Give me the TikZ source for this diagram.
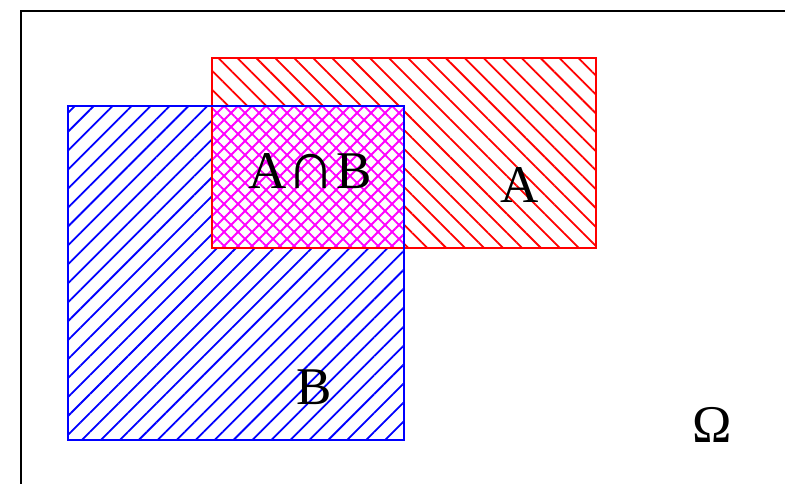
\documentclass[tikz,border=0pt]{standalone}
\usepackage{fontspec}
\setmainfont{Liberation Serif}
\usetikzlibrary{patterns.meta}
\tikzset{
seta/.style={
pattern={Lines[angle=-45,distance=13.4bp,line width=1.8bp]},
pattern color=red
},
setb/.style={
pattern={Lines[angle=45,distance=13.4bp,line width=1.8bp]},
pattern color=blue
},
cross/.style={
pattern={Lines[angle=#1,distance=9.9bp,line width=1.8bp]},
pattern color=magenta
},
label/.style={
font=\fontsize{53bp}{60bp}\selectfont,
inner sep=0pt,
anchor=base
}
}
\newcommand{\bigcapsign}{{\fontsize{68bp}{68bp}\selectfont ∩}}

\begin{document}
\begin{tikzpicture}[x=1bp,y=-1bp]
\useasboundingbox (0,0) rectangle (785,484);
% sample space frame
\draw[line width=2bp] (21,484) -- (21,11) -- (785,11);

\coordinate (a1) at (212,58);
\coordinate (a2) at (596,248);
\coordinate (b1) at (68,106);
\coordinate (b2) at (404,440);

% the two events
\fill[seta] (a1) rectangle (a2);
\fill[setb] (b1) rectangle (b2);
% intersection
\fill[white] (212,106) rectangle (404,248);
\fill[cross=45] (212,106) rectangle (404,248);
\fill[cross=-45] (212,106) rectangle (404,248);

\draw[red,line width=1.2bp] (a1) rectangle (a2);
\draw[blue,line width=1.2bp] (b1) rectangle (b2);

\node[label] (ab) at (310,189) {A\bigcapsign B};
\node[label] (la) at (520,203) {A};
\node[label] (lb) at (314,404) {B};
\node[label] (om) at (712,442) {Ω};
\end{tikzpicture}
\end{document}
